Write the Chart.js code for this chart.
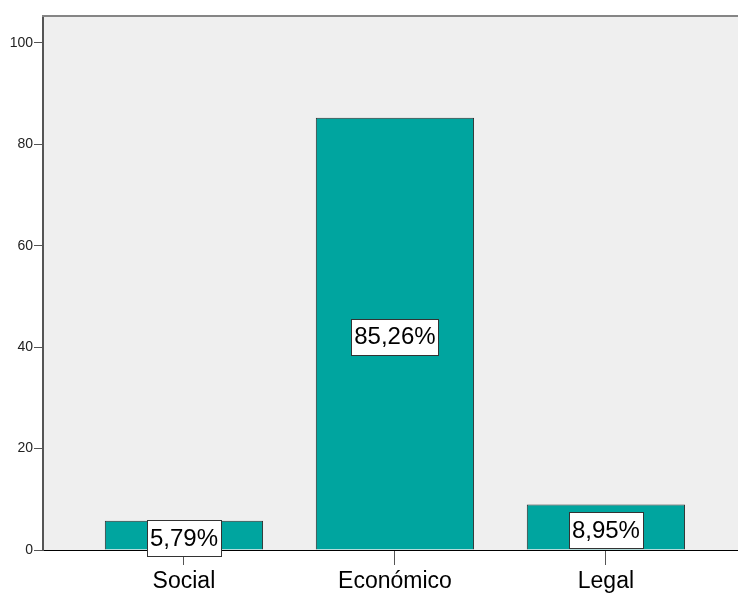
<!DOCTYPE html>
<html><head><meta charset="utf-8">
<script src="https://cdn.jsdelivr.net/npm/chart.js@4"></script>
<style>html,body{margin:0;padding:0;background:#fff}#w{width:738px;height:595px}</style>
</head><body><div id="w"><canvas id="c"></canvas></div>
<script>
const categories = ['Social', 'Económico', 'Legal'];
const values = [5.79, 85.26, 8.95];
const valueLabels = ['5,79%', '85,26%', '8,95%'];
const yTicks = [0, 20, 40, 60, 80, 100];

const bgPlugin = {
  id: 'bg',
  beforeDraw(chart) {
    const {ctx, chartArea: a} = chart;
    ctx.save();
    ctx.fillStyle = '#efefef';
    ctx.fillRect(a.left, a.top, a.right - a.left, a.bottom - a.top);
    ctx.restore();
  },
  afterDraw(chart) {
    const {ctx, chartArea: a} = chart;
    ctx.save();
    ctx.strokeStyle = '#858585';
    ctx.lineWidth = 2;
    ctx.beginPath();
    ctx.moveTo(a.left - 1, a.top);
    ctx.lineTo(a.right, a.top);
    ctx.stroke();
    // data labels
    const meta = chart.getDatasetMeta(0);
    ctx.font = '24px "Liberation Sans", Arial, sans-serif';
    ctx.textAlign = 'center';
    ctx.textBaseline = 'middle';
    meta.data.forEach((el, i) => {
      const p = el.getProps(['x', 'y', 'base'], true);
      const cy = (p.y + p.base) / 2 + 3;
      const t = valueLabels[i];
      const w = ctx.measureText(t).width + 6;
      const h = 36;
      ctx.fillStyle = '#ffffff';
      ctx.fillRect(Math.round(p.x - w / 2) + 0.5, Math.round(cy - h / 2) + 0.5, Math.round(w), h);
      ctx.strokeStyle = '#333333';
      ctx.lineWidth = 1;
      ctx.strokeRect(Math.round(p.x - w / 2) + 0.5, Math.round(cy - h / 2) + 0.5, Math.round(w), h);
      ctx.fillStyle = '#000000';
      ctx.fillText(t, p.x, cy + 1);
    });
    ctx.restore();
  }
};

new Chart(document.getElementById('c'), {
  type: 'bar',
  data: {
    datasets: [{
      data: values.map((v, i) => ({x: i + 1, y: v})),
      backgroundColor: '#00a59f',
      borderColor: '#2e2e2e',
      borderWidth: 1,
      barPercentage: 0.75,
      categoryPercentage: 1
    }]
  },
  options: {
    responsive: true,
    maintainAspectRatio: false,
    animation: false,
    layout: {padding: {top: 16, right: 0, left: 0, bottom: 0}},
    plugins: {legend: {display: false}, tooltip: {enabled: false}},
    scales: {
      x: {
        type: 'linear',
        offset: false,
        min: 0.332,
        max: 3.626,
        afterBuildTicks: s => { s.ticks = categories.map((c, i) => ({value: i + 1})); },
        afterFit: s => { s.height = 45; },
        grid: {offset: false, drawOnChartArea: false, drawTicks: true, tickLength: 15, color: '#555', lineWidth: 1},
        border: {display: true, color: '#000', width: 1},
        ticks: {
          autoSkip: false,
          maxRotation: 0,
          padding: 3,
          color: '#000',
          font: {family: '"Liberation Sans", Arial, sans-serif', size: 23},
          callback: v => categories[Math.round(v) - 1] || ''
        }
      },
      y: {
        min: 0,
        max: 105.3,
        afterBuildTicks: s => { s.ticks = yTicks.map(v => ({value: v})); },
        afterFit: s => { s.width = 43; },
        grid: {drawOnChartArea: false, drawTicks: true, tickLength: 9, color: '#555', lineWidth: 1},
        border: {display: true, color: '#555', width: 2},
        ticks: {
          padding: 1,
          color: '#222',
          font: {family: '"Liberation Sans", Arial, sans-serif', size: 14}
        }
      }
    }
  },
  plugins: [bgPlugin]
});
</script>
</body></html>
